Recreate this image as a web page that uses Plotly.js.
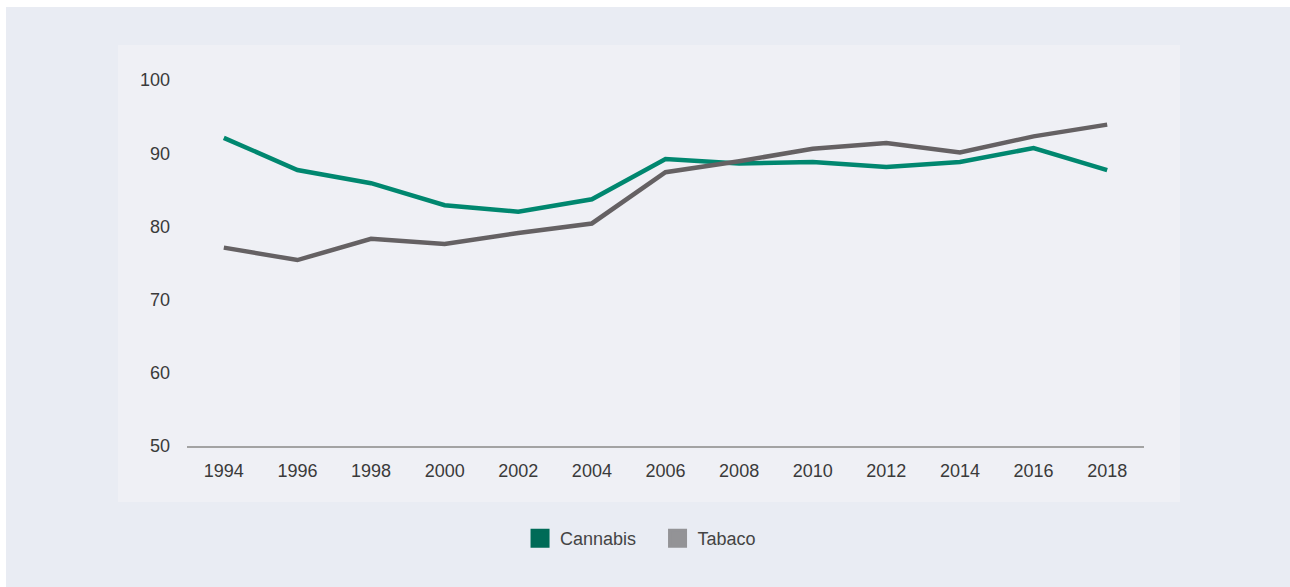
<!DOCTYPE html>
<html>
<head>
<meta charset="utf-8">
<script src="https://cdn.plot.ly/plotly-3.0.1.min.js"></script>
<style>
  html, body { margin: 0; padding: 0; background: #ffffff; }
  #chart { position: absolute; left: 6px; top: 7px; width: 1284px; height: 580px; }
</style>
</head>
<body>
<div id="chart"></div>
<script>
const years = [1994, 1996, 1998, 2000, 2002, 2004, 2006, 2008, 2010, 2012, 2014, 2016, 2018];
const cannabis = [92.1, 87.7, 85.9, 82.9, 82.0, 83.7, 89.2, 88.6, 88.8, 88.1, 88.8, 90.7, 87.7];
const tabaco = [77.1, 75.4, 78.3, 77.6, 79.1, 80.4, 87.4, 88.9, 90.6, 91.4, 90.1, 92.3, 93.9];
const yTicks = [50, 60, 70, 80, 90, 100];

const lineTraces = [
  { x: years, y: cannabis, name: 'Cannabis', type: 'scatter', mode: 'lines',
    line: { color: '#00876f', width: 4.5 }, showlegend: false, hoverinfo: 'x+y' },
  { x: years, y: tabaco, name: 'Tabaco', type: 'scatter', mode: 'lines',
    line: { color: '#656163', width: 4.5 }, showlegend: false, hoverinfo: 'x+y' }
];
const legendTraces = [
  { x: [null], y: [null], name: 'Cannabis', type: 'scatter', mode: 'markers',
    marker: { symbol: 'square', size: 16, color: '#006b57', line: { color: '#006b57', width: 3 } } },
  { x: [null], y: [null], name: 'Tabaco', type: 'scatter', mode: 'markers',
    marker: { symbol: 'square', size: 16, color: '#939396', line: { color: '#939396', width: 3 } } }
];

const layout = {
  width: 1284, height: 580,
  margin: { l: 181, r: 146, t: 73, b: 141 },
  paper_bgcolor: '#e9ecf3',
  plot_bgcolor: 'rgba(0,0,0,0)',
  font: { family: 'Liberation Sans, Arial, sans-serif', size: 18, color: '#3a3a3a' },
  xaxis: {
    range: [1993, 2019], tickvals: years, ticktext: years.map(String),
    showgrid: false, zeroline: false, showline: true, linecolor: '#a3a3a3', linewidth: 2,
    ticks: '', ticklabelstandoff: 7, tickfont: { size: 18, color: '#3a3a3a' }
  },
  yaxis: {
    range: [50, 100], tickvals: yTicks, ticktext: yTicks.map(String),
    showgrid: false, zeroline: false, showline: false,
    ticks: '', ticklabelstandoff: 16, tickfont: { size: 18, color: '#3a3a3a' }
  },
  shapes: [{
    type: 'rect', xref: 'paper', yref: 'paper', layer: 'below',
    x0: -0.0721, x1: 1.0376, y0: -0.153, y1: 1.0956,
    fillcolor: '#eff0f5', line: { width: 0 }
  }],
  legend: {
    orientation: 'h', x: 0.348, xanchor: 'left', y: -0.2527, yanchor: 'middle',
    entrywidth: 92.5, entrywidthmode: 'pixels',
    bgcolor: 'rgba(0,0,0,0)', font: { size: 18, color: '#444444' }
  },
  showlegend: true
};

Plotly.newPlot('chart', lineTraces.concat(legendTraces), layout, { displayModeBar: false, staticPlot: true });
</script>
</body>
</html>
